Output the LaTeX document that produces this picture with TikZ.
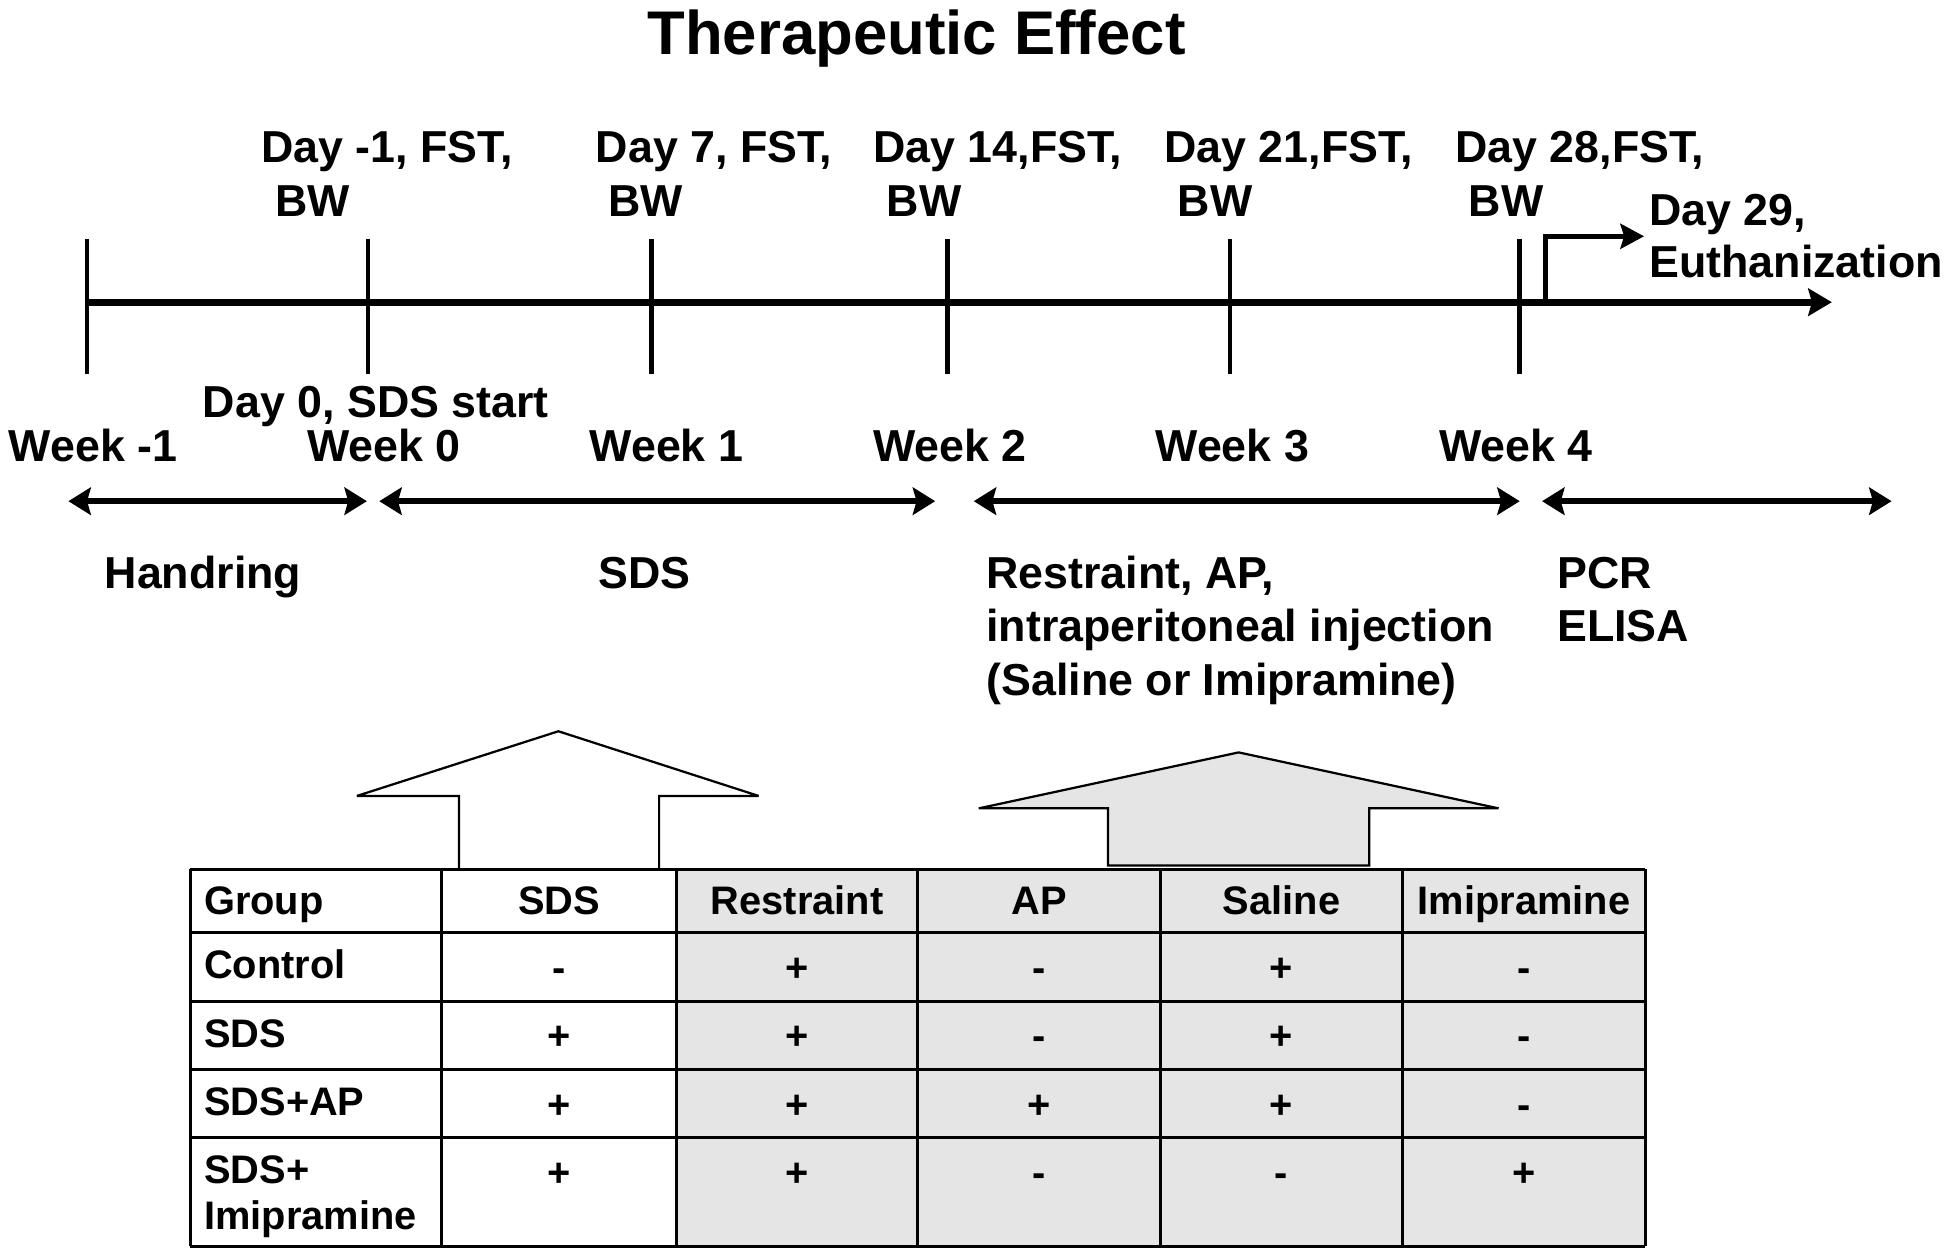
\documentclass[tikz,border=0pt]{standalone}
\usepackage{fontspec}
\setmainfont{Liberation Sans}
\usetikzlibrary{arrows.meta}
\begin{document}
\begin{tikzpicture}[x=1pt,y=-1pt,
  lbl/.style={font=\bfseries\fontsize{36}{43}\selectfont, inner sep=0pt, anchor=base west},
  ttl/.style={font=\bfseries\fontsize{49.6}{56}\selectfont, inner sep=0pt, anchor=base},
  tlbl/.style={font=\bfseries\fontsize{32}{38}\selectfont, inner sep=0pt, anchor=base west},
  tval/.style={font=\bfseries\fontsize{32}{38}\selectfont, inner sep=0pt, anchor=base},
  tickline/.style={line width=3.6pt},
  axisline/.style={line width=5.5pt, -{Stealth[length=19pt,width=22pt,inset=3pt]}},
  bentline/.style={line width=4.2pt, -{Stealth[length=19pt,width=20pt,inset=3pt]}},
  darr/.style={line width=5pt, {Stealth[length=18pt,width=22pt,inset=3pt]}-{Stealth[length=18pt,width=22pt,inset=3pt]}},
  gridline/.style={line width=2.4pt},
  bigarrow/.style={line width=1.8pt, line join=miter, miter limit=2}]
\useasboundingbox (0,0) rectangle (1568,1009);

% title
\node[ttl] (title) at (737,44) {Therapeutic Effect};

% timeline
\coordinate (ax0) at (70,243);
\coordinate (ax1) at (1473,243);
\draw[axisline] (ax0) -- (ax1);
\foreach \n/\x in {t0/70,t1/296,t2/524,t3/762,t4/989,t5/1222}{
  \coordinate (\n top) at (\x,192);
  \coordinate (\n bot) at (\x,301);
  \draw[tickline] (\n top) -- (\n bot);
}
\coordinate (bentA) at (1243,245);
\coordinate (bentB) at (1243,190);
\coordinate (bentC) at (1322,190);
\draw[bentline] (bentA) -- (bentB) -- (bentC);

% top labels
\node[lbl] (d1a) at (210,131) {Day -1, FST,};
\node[lbl] (d1b) at (221,174) {BW};
\node[lbl] (d7a) at (479,131) {Day 7, FST,};
\node[lbl] (d7b) at (489,174) {BW};
\node[lbl] (d14a) at (702,131) {Day 14,FST,};
\node[lbl] (d14b) at (713,174) {BW};
\node[lbl] (d21a) at (936,131) {Day 21,FST,};
\node[lbl] (d21b) at (947,174) {BW};
\node[lbl] (d28a) at (1170,131) {Day 28,FST,};
\node[lbl] (d28b) at (1181,174) {BW};
\node[lbl] (d29a) at (1326,181) {Day 29,};
\node[lbl] (d29b) at (1326,223) {Euthanization};

% bottom labels
\node[lbl] (d0) at (163,336) {Day 0, SDS start};
\node[lbl] (wm1) at (7,371) {Week -1};
\node[lbl] (w0) at (247,371) {Week 0};
\node[lbl] (w1) at (474,371) {Week 1};
\node[lbl] (w2) at (702,371) {Week 2};
\node[lbl] (w3) at (929,371) {Week 3};
\node[lbl] (w4) at (1157,371) {Week 4};

% period arrows
\foreach \n/\a/\b in {p1/55/295,p2/305/752,p3/783/1222,p4/1240/1521}{
  \coordinate (\n l) at (\a,403);
  \coordinate (\n r) at (\b,403);
  \draw[darr] (\n l) -- (\n r);
}

% period labels
\node[lbl] (hand) at (84,473) {Handring};
\node[lbl] (sdsl) at (481,473) {SDS};
\node[lbl] (rest1) at (793,473) {Restraint, AP,};
\node[lbl] (rest2) at (793,516) {intraperitoneal injection};
\node[lbl] (rest3) at (793,559) {(Saline or Imipramine)};
\node[lbl] (pcr) at (1252,473) {PCR};
\node[lbl] (elisa) at (1252,516) {ELISA};

% table background
\fill[gray!20] (544,699) rectangle (1323,1002);

% big arrows
\draw[bigarrow, fill=white] (369,699) -- (369,640) -- (287,640) -- (449,588) -- (610,640) -- (530,640) -- (530,699) -- cycle;
\draw[bigarrow, fill=gray!20] (891,696) -- (891,650) -- (787,650) -- (996,605) -- (1205,650) -- (1101,650) -- (1101,696) -- cycle;

% table grid
\foreach \y in {699,750,805,860,915,1002}{
  \draw[gridline] (153,\y) -- (1323,\y);
}
\foreach \x in {153,355,544,738,933,1128,1323}{
  \draw[gridline] (\x,699) -- (\x,1002);
}

% table header
\node[tlbl] (hgroup) at (164,735) {Group};
\node[tval] (hsds) at (449.5,735) {SDS};
\node[tval] (hrest) at (641,735) {Restraint};
\node[tval] (hap) at (835.5,735) {AP};
\node[tval] (hsal) at (1030.5,735) {Saline};
\node[tval] (himi) at (1225.5,735) {Imipramine};

% row labels
\node[tlbl] (rctrl) at (164,787) {Control};
\node[tlbl] (rsds) at (164,842) {SDS};
\node[tlbl] (rsdsap) at (164,897) {SDS+AP};
\node[tlbl] (rsdsimi) at (164,952) {SDS+};
\node[tlbl] (rsdsimib) at (164,989) {Imipramine};

% values
\foreach \r/\y/\va/\vb/\vc/\vd/\ve in {
  a/789/-/+/-/+/-,
  b/844/+/+/-/+/-,
  c/899/+/+/+/+/-,
  d/954/+/+/-/-/+}{
  \node[tval] (v\r1) at (449.5,\y) {\va};
  \node[tval] (v\r2) at (641,\y) {\vb};
  \node[tval] (v\r3) at (835.5,\y) {\vc};
  \node[tval] (v\r4) at (1030.5,\y) {\vd};
  \node[tval] (v\r5) at (1225.5,\y) {\ve};
}
\end{tikzpicture}
\end{document}
